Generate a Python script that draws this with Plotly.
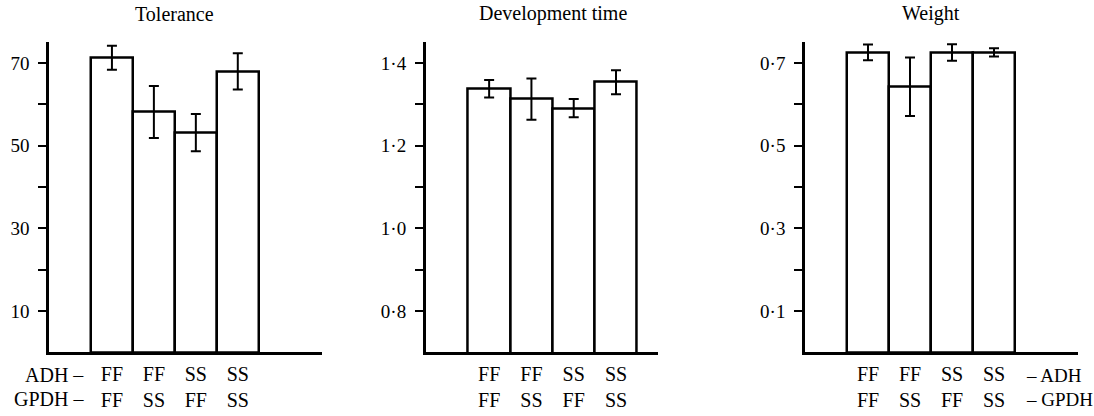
import plotly.graph_objects as go

# ---- data ----
adh = ["FF", "FF", "SS", "SS"]
gpdh = ["FF", "SS", "FF", "SS"]

tolerance_mean = [71.3, 58.2, 53.2, 68.0]
tolerance_err = [2.9, 6.3, 4.5, 4.4]

devtime_mean = [1.338, 1.313, 1.291, 1.354]
devtime_err = [0.021, 0.050, 0.022, 0.029]

weight_mean = [0.726, 0.643, 0.726, 0.726]
weight_err = [0.019, 0.071, 0.020, 0.010]

titles = ["Tolerance", "Development time", "Weight"]

tol_ticks = [10, 20, 30, 40, 50, 60, 70]
tol_labels = ["10", "", "30", "", "50", "", "70"]
dev_ticks = [0.8, 0.9, 1.0, 1.1, 1.2, 1.3, 1.4]
dev_labels = ["0·8", "", "1·0", "", "1·2", "", "1·4"]
wt_ticks = [0.1, 0.2, 0.3, 0.4, 0.5, 0.6, 0.7]
wt_labels = ["0·1", "", "0·3", "", "0·5", "", "0·7"]

W, H = 1094, 416
FONT = "Liberation Serif"


def fx(px):
    return px / W


def fy(py):
    return 1 - py / H


positions = [0, 1, 2, 3]
cat_text = [f"{a}<br>{g}" for a, g in zip(adh, gpdh)]

panels = [
    dict(mean=tolerance_mean, err=tolerance_err, yr=[0, 75.2], xr=[-1.5, 5.0],
         ticks=tol_ticks, labels=tol_labels, px=(49, 321.7)),
    dict(mean=devtime_mean, err=devtime_err, yr=[0.7, 1.452], xr=[-1.5, 4.0],
         ticks=dev_ticks, labels=dev_labels, px=(425.7, 658.3)),
    dict(mean=weight_mean, err=weight_err, yr=[0, 0.752], xr=[-1.5, 5.0],
         ticks=wt_ticks, labels=wt_labels, px=(805, 1078)),
]

fig = go.Figure()
ydom = [fy(352.3), fy(41.7)]
annotations = []
for i, p in enumerate(panels):
    xa = "x" if i == 0 else f"x{i+1}"
    ya = "y" if i == 0 else f"y{i+1}"
    fig.add_trace(go.Bar(
        x=positions, y=p["mean"], width=1,
        marker=dict(color="white", line=dict(color="black", width=2.5)),
        error_y=dict(type="data", array=p["err"], visible=True,
                     color="black", thickness=2, width=5),
        xaxis=xa, yaxis=ya, showlegend=False,
    ))
    xkey = "xaxis" if i == 0 else f"xaxis{i+1}"
    ykey = "yaxis" if i == 0 else f"yaxis{i+1}"
    fig.layout[xkey] = dict(
        domain=[fx(p["px"][0]), fx(p["px"][1])], range=p["xr"],
        anchor=ya, showline=True, linecolor="black", linewidth=2.5,
        showgrid=False, zeroline=False, ticks="", tickvals=positions,
        ticktext=cat_text, tickfont=dict(family=FONT, size=20, color="black"),
        ticklabelstandoff=2, fixedrange=True,
    )
    fig.layout[ykey] = dict(
        domain=ydom, range=p["yr"], anchor=xa,
        showline=True, linecolor="black", linewidth=2.5,
        showgrid=False, zeroline=False, ticks="outside", ticklen=8,
        tickwidth=2, tickcolor="black", tickvals=p["ticks"], ticktext=p["labels"],
        tickfont=dict(family=FONT, size=19, color="black"),
        ticklabelstandoff=5, fixedrange=True,
    )
    annotations.append(dict(
        text=titles[i], x=1.5, xref=xa, y=fy(14), yref="paper",
        xanchor="center", yanchor="middle", showarrow=False,
        font=dict(family=FONT, size=20, color="black"),
    ))

# row labels
lab_font = dict(family=FONT, size=20, color="black")
annotations += [
    dict(text="ADH –", x=-0.5, xref="x", xshift=-5, y=fy(375), yref="paper",
         xanchor="right", yanchor="middle", showarrow=False, font=lab_font),
    dict(text="GPDH –", x=-0.5, xref="x", xshift=-5, y=fy(399), yref="paper",
         xanchor="right", yanchor="middle", showarrow=False, font=lab_font),
    dict(text="– ADH", x=3.5, xref="x3", xshift=9, y=fy(375), yref="paper",
         xanchor="left", yanchor="middle", showarrow=False,
         font=dict(family=FONT, size=19, color="black")),
    dict(text="– GPDH", x=3.5, xref="x3", xshift=9, y=fy(399), yref="paper",
         xanchor="left", yanchor="middle", showarrow=False,
         font=dict(family=FONT, size=19, color="black")),
]

fig.update_layout(
    width=W, height=H, margin=dict(l=0, r=0, t=0, b=0),
    paper_bgcolor="white", plot_bgcolor="white",
    bargap=0, annotations=annotations,
    font=dict(family=FONT, color="black"),
)

fig.write_html(
    "out.html",
    config={"displayModeBar": False},
    post_script="document.body.style.margin='0';document.body.style.overflow='hidden';",
)
